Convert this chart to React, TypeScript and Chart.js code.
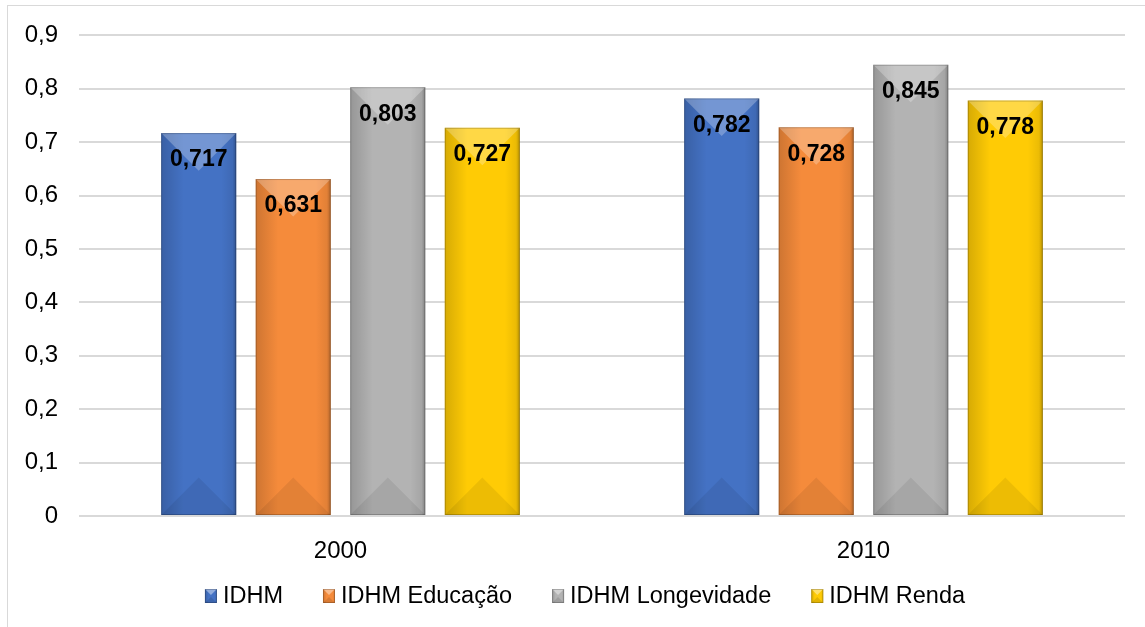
import React, { useEffect, useRef } from 'react';
import { Chart, registerables } from 'chart.js';

Chart.register(...registerables);

const categories = ['2000', '2010'];
const seriesNames = ['IDHM', 'IDHM Educação', 'IDHM Longevidade', 'IDHM Renda'];
const idhm = [0.717, 0.782];
const idhmEducacao = [0.631, 0.728];
const idhmLongevidade = [0.803, 0.845];
const idhmRenda = [0.727, 0.778];
const seriesColors = ['#4472C4', '#F58B3B', '#B3B3B3', '#FFCB05'];
const yMin = 0;
const yMax = 0.9;
const yStep = 0.1;

const FONT = '"Liberation Sans", Arial, sans-serif';

const fmt = (v: number, d: number) => (v === 0 ? '0' : v.toFixed(d).replace('.', ','));

function bevelRect(ctx: any, l: number, t: number, w: number, h: number, strong: number) {
  const r = l + w;
  const b = t + h;
  const x = l + w / 2;
  const d = Math.min(w / 2, h / 2);
  const g = ctx.createLinearGradient(l, 0, r, 0);
  g.addColorStop(0, 'rgba(0,0,0,0.16)');
  g.addColorStop(0.3, 'rgba(0,0,0,0)');
  g.addColorStop(0.8, 'rgba(0,0,0,0)');
  g.addColorStop(0.95, 'rgba(0,0,0,0.08)');
  g.addColorStop(1, 'rgba(0,0,0,0.28)');
  ctx.fillStyle = g;
  ctx.fillRect(l, t, w, h);
  ctx.beginPath();
  ctx.moveTo(l, t);
  ctx.lineTo(r, t);
  ctx.lineTo(x, t + d);
  ctx.closePath();
  ctx.fillStyle = `rgba(255,255,255,${0.26 * strong})`;
  ctx.fill();
  ctx.beginPath();
  ctx.moveTo(l, b);
  ctx.lineTo(r, b);
  ctx.lineTo(x, b - d);
  ctx.closePath();
  ctx.fillStyle = `rgba(0,0,0,${0.07 * strong})`;
  ctx.fill();
  ctx.strokeStyle = 'rgba(0,0,0,0.2)';
  ctx.lineWidth = 1;
  ctx.strokeRect(l + 0.5, t + 0.5, w - 1, h - 1);
}

const bevelPlugin = {
  id: 'bevel',
  afterDatasetDraw(chart: any, args: any) {
    const ctx = chart.ctx;
    args.meta.data.forEach((el: any) => {
      const { x, y, base, width } = el.getProps(['x', 'y', 'base', 'width'], true);
      const t = Math.min(y, base);
      const b = Math.max(y, base);
      ctx.save();
      bevelRect(ctx, x - width / 2, t, width, b - t, 1);
      ctx.restore();
    });
  },
};

const labelPlugin = {
  id: 'valueLabels',
  afterDatasetsDraw(chart: any) {
    const ctx = chart.ctx;
    ctx.save();
    ctx.font = `bold 23px ${FONT}`;
    ctx.fillStyle = '#000';
    ctx.textAlign = 'center';
    ctx.textBaseline = 'middle';
    chart.data.datasets.forEach((ds: any, i: number) => {
      const meta = chart.getDatasetMeta(i);
      meta.data.forEach((el: any, j: number) => {
        const { x, y } = el.getProps(['x', 'y'], true);
        ctx.fillText(fmt(ds.data[j], 3), x, y + 27);
      });
    });
    ctx.restore();
  },
};

const legendPlugin = {
  id: 'bevelLegend',
  afterDraw(chart: any) {
    const ctx = chart.ctx;
    const boxW = 12;
    const boxH = 14;
    const textOffset = 18;
    const itemGap = 40;
    const cy = 596;
    const centerX = 585;
    ctx.save();
    ctx.font = `23.5px ${FONT}`;
    const items = chart.data.datasets.map((ds: any) => ({
      text: ds.label,
      color: ds.backgroundColor,
      w: ctx.measureText(ds.label).width,
    }));
    const total =
      items.reduce((s: number, it: any) => s + textOffset + it.w, 0) + itemGap * (items.length - 1);
    let x = centerX - total / 2;
    ctx.textBaseline = 'middle';
    ctx.textAlign = 'left';
    items.forEach((it: any) => {
      ctx.fillStyle = it.color;
      ctx.fillRect(x, cy - boxH / 2, boxW, boxH);
      bevelRect(ctx, x, cy - boxH / 2, boxW, boxH, 1.6);
      ctx.fillStyle = '#000';
      ctx.fillText(it.text, x + textOffset, cy + 1);
      x += textOffset + it.w + itemGap;
    });
    ctx.restore();
  },
};

export default function App() {
  const ref = useRef<HTMLCanvasElement>(null);
  useEffect(() => {
    if (!ref.current) return;
    const series = [idhm, idhmEducacao, idhmLongevidade, idhmRenda];
    const chart = new Chart(ref.current, {
      type: 'bar',
      data: {
        labels: categories,
        datasets: series.map((data, i) => ({
          label: seriesNames[i],
          data,
          backgroundColor: seriesColors[i],
          borderWidth: 0,
          categoryPercentage: 0.723,
          barPercentage: 0.794,
        })),
      },
      options: {
        responsive: true,
        maintainAspectRatio: false,
        animation: false,
        layout: { padding: { left: 20, right: 20, top: 34, bottom: 61 } },
        plugins: {
          tooltip: { enabled: false },
          legend: { display: false },
        },
        scales: {
          x: {
            grid: { display: false },
            border: { display: false },
            ticks: { color: '#000', font: { family: FONT, size: 24 }, padding: 13 },
            afterFit: (s: any) => {
              s.height = 50;
            },
          },
          y: {
            min: yMin,
            max: yMax,
            grid: { color: '#d9d9d9', lineWidth: 2, drawTicks: false },
            border: { display: false },
            ticks: {
              stepSize: yStep,
              color: '#000',
              font: { family: FONT, size: 24 },
              padding: 21,
              callback: (v: any) => fmt(Number(v), 1),
            },
            afterFit: (s: any) => {
              s.width = 59;
            },
          },
        },
      },
      plugins: [bevelPlugin, labelPlugin, legendPlugin],
    });
    return () => chart.destroy();
  }, []);

  return (
    <div style={{ position: 'absolute', left: 0, top: 0, width: 1145, height: 627, background: '#fff', overflow: 'hidden' }}>
      <div
        style={{
          position: 'absolute',
          left: 7,
          top: 5,
          right: -2,
          bottom: -2,
          borderLeft: '1px solid #d9d9d9',
          borderTop: '1px solid #d9d9d9',
        }}
      />
      <div style={{ position: 'absolute', left: 0, top: 0, width: 1145, height: 627 }}>
        <canvas ref={ref} />
      </div>
    </div>
  );
}
